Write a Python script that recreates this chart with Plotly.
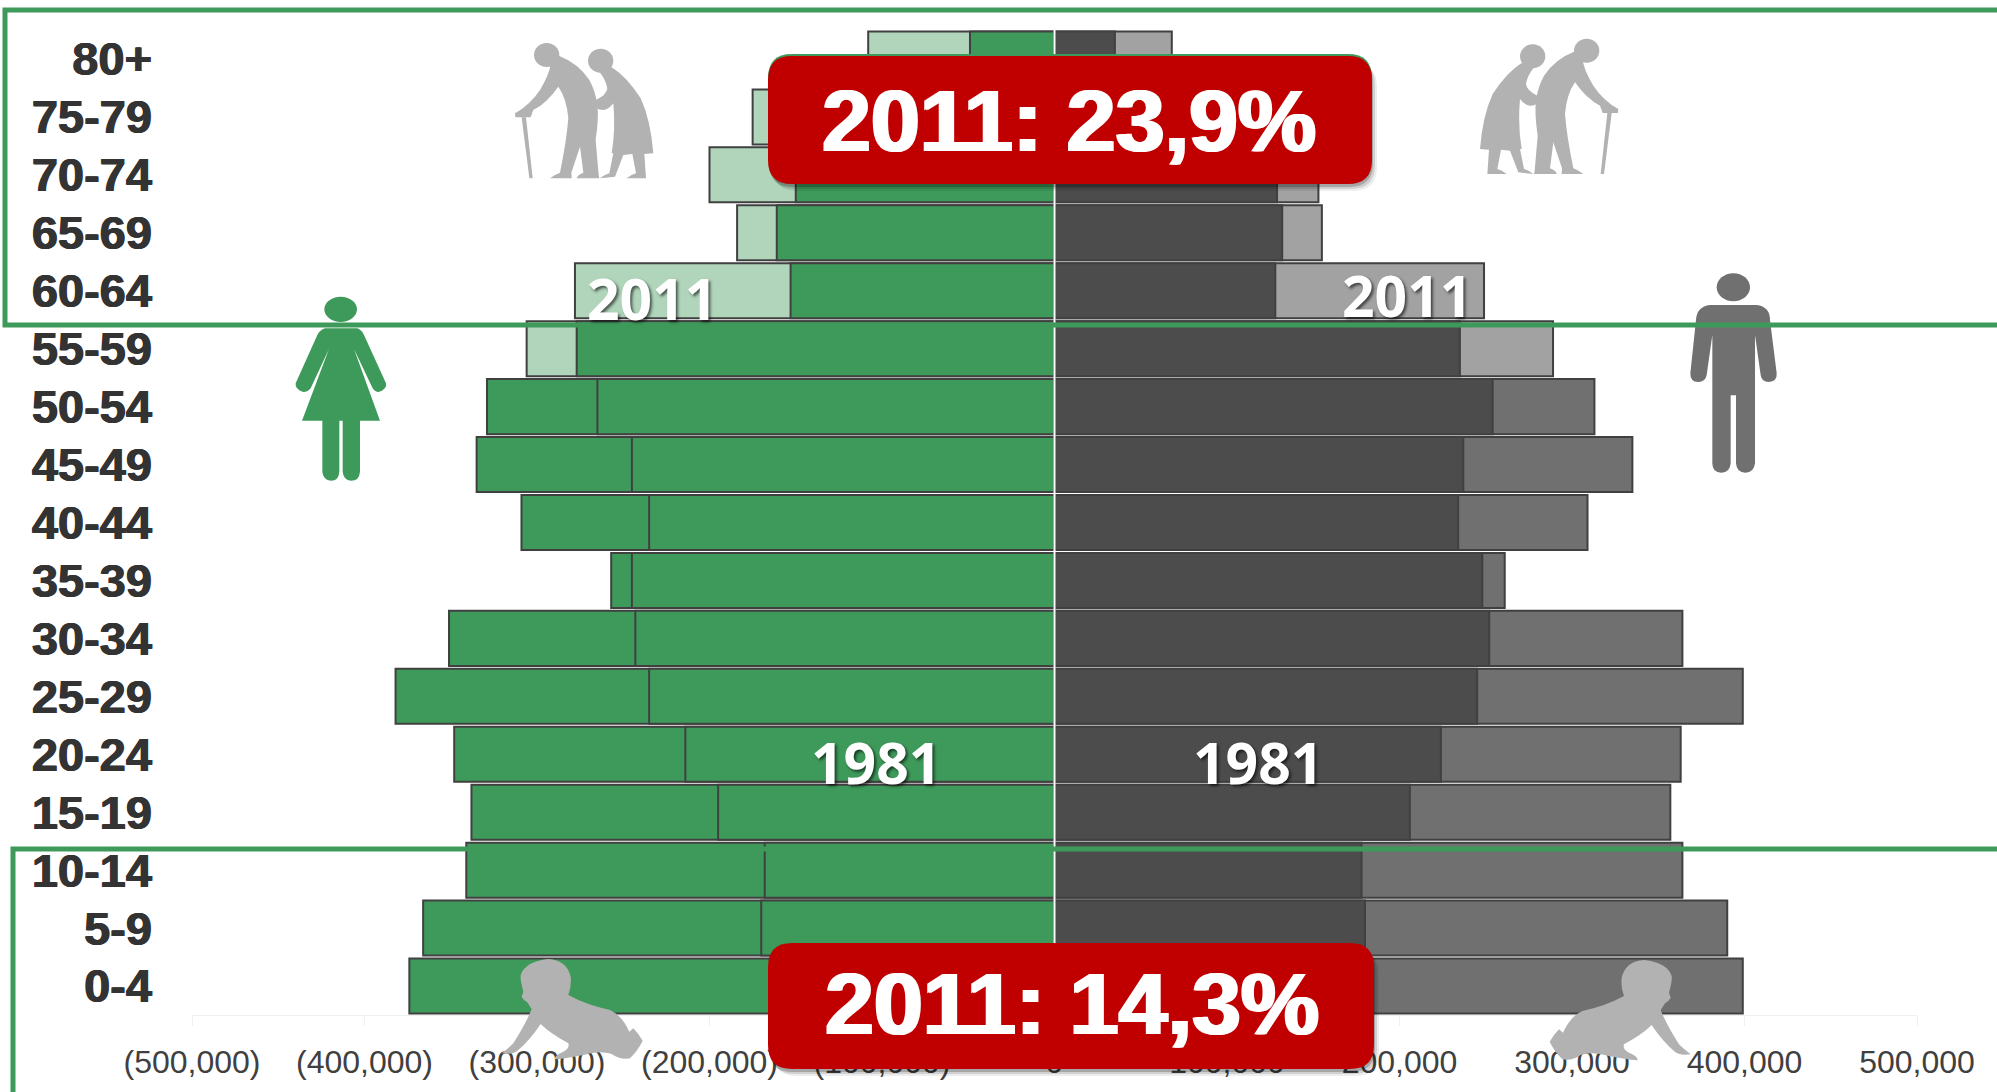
import re
import plotly.graph_objects as go

age_groups = ["80+", "75-79", "70-74", "65-69", "60-64", "55-59", "50-54", "45-49", "40-44",
              "35-39", "30-34", "25-29", "20-24", "15-19", "10-14", "5-9", "0-4"]
women_2011 = [108000, 175000, 200000, 184000, 278000, 306000, 329000, 335000, 309000,
              257000, 351000, 382000, 348000, 338000, 341000, 366000, 374000]
women_1981 = [49000, 105000, 150000, 161000, 153000, 277000, 265000, 245000, 235000,
              245000, 243000, 235000, 214000, 195000, 168000, 170000, 160000]
men_2011 = [68000, 130000, 153000, 155000, 249000, 289000, 313000, 335000, 309000,
            261000, 364000, 399000, 363000, 357000, 364000, 390000, 399000]
men_1981 = [35000, 85000, 129000, 132000, 128000, 235000, 254000, 237000, 234000,
            248000, 252000, 245000, 224000, 206000, 178000, 180000, 175000]
axis_values = [-500000, -400000, -300000, -200000, -100000, 0, 100000, 200000, 300000, 400000, 500000]
axis_labels = ["(500,000)", "(400,000)", "(300,000)", "(200,000)", "(100,000)", "0",
               "100,000", "200,000", "300,000", "400,000", "500,000"]
box_texts = ["2011: 23,9%", "2011: 14,3%"]
year_labels = ["2011", "1981"]

GREEN, GREEN_LIGHT = "#3E9A5A", "#B0D5BB"
DARK, GREY_MID, GREY_LIGHT = "#4C4C4C", "#707070", "#A2A2A2"
OUTLINE, ICON, RED = "#404040", "#B2B2B2", "#C00000"
FADED_GROUPS = 6

L, R, T, B, W, H = 192, 1917, 30, 1015, 1997, 1092


def px(x):
    return (x - L) / (R - L)


def py(y):
    return (B - y) / (B - T)


def conv(path, ox, oy, sx=1 / 3, sy=1 / 3):
    out = []
    for tok in re.findall(r"[A-Za-z]|-?[\d.]+\s*,\s*-?[\d.]+", path):
        if tok.isalpha():
            out.append(tok)
        else:
            a, b = [float(v) for v in tok.split(",")]
            out.append(f"{px(ox + a * sx):.5f},{py(oy + b * sy):.5f}")
    return " ".join(out)


def shape(path, fill=None, line=None, width=0):
    return dict(type="path", path=path, xref="paper", yref="paper", layer="above",
                fillcolor=fill if fill else "rgba(0,0,0,0)",
                line=dict(color=line if line else "rgba(0,0,0,0)", width=width))


def rounded(x0, y0, x1, y1, r):
    p = (f"M{x0+r},{y0} L{x1-r},{y0} Q{x1},{y0} {x1},{y0+r} L{x1},{y1-r} Q{x1},{y1} {x1-r},{y1} "
         f"L{x0+r},{y1} Q{x0},{y1} {x0},{y1-r} L{x0},{y0+r} Q{x0},{y0} {x0+r},{y0} Z")
    return conv(p, 0, 0, 1, 1)


def ellipse(cx, cy, rx, ry, ox, oy, mirror=None, dy=0):
    k = 0.5523
    if mirror is not None:
        cx = mirror - cx
    cy = cy + dy
    p = (f"M{cx-rx},{cy} C{cx-rx},{cy-k*ry} {cx-k*rx},{cy-ry} {cx},{cy-ry} "
         f"C{cx+k*rx},{cy-ry} {cx+rx},{cy-k*ry} {cx+rx},{cy} "
         f"C{cx+rx},{cy+k*ry} {cx+k*rx},{cy+ry} {cx},{cy+ry} "
         f"C{cx-k*rx},{cy+ry} {cx-rx},{cy+k*ry} {cx-rx},{cy} Z")
    return conv(p, ox, oy)


def flip(path, mirror, dy):
    def sub(m):
        a, b = float(m.group(1)), float(m.group(2))
        return f"{mirror - a},{b + dy}"
    return re.sub(r"(-?[\d.]+)\s*,\s*(-?[\d.]+)", sub, path)


female_body = ("M135,145 L232,145 Q245,150 252,165 L318,310 Q322,328 296,336 Q285,336 278,325 L222,207 "
               "L300,422 L240,422 L240,575 Q238,602 213,602 Q190,600 188,575 L188,422 L178,422 L178,575 "
               "Q176,602 153,602 Q129,600 127,575 L127,422 L66,422 L147,207 L92,325 Q84,336 70,336 "
               "Q44,328 47,310 L112,165 Q120,150 135,145 Z")
male_body = ("M120,135 L260,135 Q300,140 300,180 L320,340 Q322,365 296,366 Q275,366 272,345 L255,225 "
             "L255,610 Q252,638 226,638 Q200,638 198,610 L198,406 L182,406 L182,610 Q180,638 154,638 "
             "Q127,638 127,610 L127,225 L110,345 Q106,366 85,366 Q60,366 61,340 L78,180 Q80,140 120,135 Z")
old_man = ("M178,78 Q235,100 268,150 Q287,185 292,225 Q297,260 287,330 L296,435 L298,445 L230,445 "
           "Q232,435 250,428 L240,350 L214,428 L215,445 L150,445 Q165,433 180,428 Q200,330 205,265 "
           "Q200,205 175,170 Q140,220 100,240 L92,262 L46,262 L45,250 Q90,225 120,180 Q150,130 152,100 Z")
old_cane = "M65,262 L78,262 L98,445 L88,445 Z"
old_woman = ("M335,112 Q380,140 422,205 Q452,270 460,370 L433,372 L438,445 L380,445 Q395,433 408,430 "
             "L397,372 L370,375 L345,440 L300,445 Q315,433 328,430 L340,370 L335,370 Q347,300 340,220 "
             "Q325,240 310,240 Q295,240 292,235 L288,210 Q320,195 322,175 Q318,150 298,125 Z")
baby = ("M145,27 Q200,30 212,80 Q215,110 205,135 Q260,165 330,180 Q365,195 388,245 L400,235 Q415,250 428,272 "
        "Q415,300 390,325 Q360,330 335,312 Q300,300 250,315 Q200,325 165,328 Q160,318 190,305 Q210,295 205,280 "
        "Q150,250 122,222 Q90,270 55,300 Q40,315 5,310 Q25,295 40,280 Q75,225 95,178 Q85,160 80,155 "
        "Q70,150 65,140 L70,125 Q60,90 62,75 Q75,35 145,27 Z")

shapes = [dict(type="line", xref="x", yref="paper", x0=0, x1=0, y0=0, y1=1, layer="above",
               line=dict(color="#FFFFFF", width=2))]

# person icons
shapes += [shape(ellipse(182, 88, 49, 38, 280, 280), GREEN), shape(conv(female_body, 280, 280), GREEN)]
shapes += [shape(ellipse(190, 82, 50, 42, 1670, 260), GREY_MID), shape(conv(male_body, 1670, 260), GREY_MID)]

# elderly icons
for p in (old_man, old_cane, old_woman):
    shapes.append(shape(conv(p, 500, 30), ICON))
    shapes.append(shape(conv(flip(p, 490, -13), 1470, 30), ICON))
shapes += [shape(ellipse(140, 75, 38, 36, 500, 30), ICON), shape(ellipse(302, 92, 38, 36, 500, 30), ICON),
           shape(ellipse(140, 75, 38, 36, 1470, 30, mirror=490, dy=-13), ICON),
           shape(ellipse(302, 92, 38, 36, 1470, 30, mirror=490, dy=-13), ICON)]

# green frames
shapes.append(shape(conv(f"M{W+5},325 L5,325 L5,10 L{W+5},10", 0, 0, 1, 1), None, GREEN, 5))
shapes.append(shape(conv(f"M{W+5},849 L13,849 L13,{H+5}", 0, 0, 1, 1), None, GREEN, 5))

# baby icons
shapes.append(shape(conv(baby, 500, 950), ICON))
shapes.append(shape(conv(flip(baby, 457, 3), 1540, 950), ICON))

# red boxes with soft shadows
boxes = [(768, 56, 1372, 184), (768, 943, 1374, 1069)]
shapes.append(shape(rounded(768, 54, 1372, 120, 24), GREEN))
for x0, y0, x1, y1 in boxes:
    for d, a in ((7, 0.07), (5, 0.12), (3, 0.2)):
        shapes.append(shape(rounded(x0 + d - 2, y0 + d, x1 + d - 2, y1 + d, 24), f"rgba(0,0,0,{a})"))
for x0, y0, x1, y1 in boxes:
    shapes.append(shape(rounded(x0, y0, x1, y1, 24), RED))

female_outer = [GREEN_LIGHT] * FADED_GROUPS + [GREEN] * (len(age_groups) - FADED_GROUPS)
male_outer = [GREY_LIGHT] * FADED_GROUPS + [GREY_MID] * (len(age_groups) - FADED_GROUPS)

fig = go.Figure()
bar_line = dict(color=OUTLINE, width=2)
fig.add_bar(y=age_groups, x=[-v for v in women_2011], orientation="h", name="Women 2011",
            marker=dict(color=female_outer, line=bar_line))
fig.add_bar(y=age_groups, x=men_2011, orientation="h", name="Men 2011",
            marker=dict(color=male_outer, line=bar_line))
fig.add_bar(y=age_groups, x=[-v for v in women_1981], orientation="h", name="Women 1981",
            marker=dict(color=GREEN, line=bar_line))
fig.add_bar(y=age_groups, x=men_1981, orientation="h", name="Men 1981",
            marker=dict(color=DARK, line=bar_line))


def note(x, y, text, size, family="Open Sans", shadow="2px 2px 3px rgba(0,0,0,0.6)"):
    return dict(x=px(x), y=py(y), xref="paper", yref="paper", text=text, showarrow=False,
                xanchor="center", yanchor="middle",
                font=dict(family=family, size=size, color="#FFFFFF", weight="bold", shadow=shadow))


thick = "1.6px 0 0 #FFFFFF, -1.6px 0 0 #FFFFFF"
annotations = [
    note(1069, 120, box_texts[0], 88, "Liberation Sans", thick),
    note(1072, 1003, box_texts[1], 88, "Liberation Sans", thick),
    note(652, 298, year_labels[0], 57),
    note(1407, 295, year_labels[0], 57),
    note(876, 762, year_labels[1], 57),
    note(1258, 762, year_labels[1], 57),
]

fig.update_layout(
    template=None, width=W, height=H, autosize=False, showlegend=False,
    barmode="overlay", bargap=0.05, paper_bgcolor="#FFFFFF", plot_bgcolor="#FFFFFF",
    margin=dict(l=L, r=W - R, t=T, b=H - B, pad=0),
    shapes=shapes, annotations=annotations,
    xaxis=dict(range=[-500000, 500000], tickmode="array", tickvals=axis_values, ticktext=axis_labels,
               showgrid=False, zeroline=False, showline=True, linecolor="#F0F0F0", linewidth=1,
               ticks="outside", ticklen=10, tickcolor="#F0F0F0", ticklabelstandoff=9,
               tickfont=dict(family="Liberation Sans", size=32, color="#404040")),
    yaxis=dict(categoryorder="array", categoryarray=age_groups, range=[16.5, -0.5], type="category",
               tickmode="array", tickvals=age_groups, ticktext=age_groups,
               showgrid=False, zeroline=False, showline=False, ticks="", ticklabelstandoff=39,
               tickfont=dict(family="Liberation Sans", size=47, color="#333333", weight="bold",
                             shadow="0.6px 0 0 #333333, -0.6px 0 0 #333333")),
)

fig.write_html("out.html", config=dict(displayModeBar=False),
               post_script="document.body.style.margin='0';document.body.style.overflow='hidden';")
